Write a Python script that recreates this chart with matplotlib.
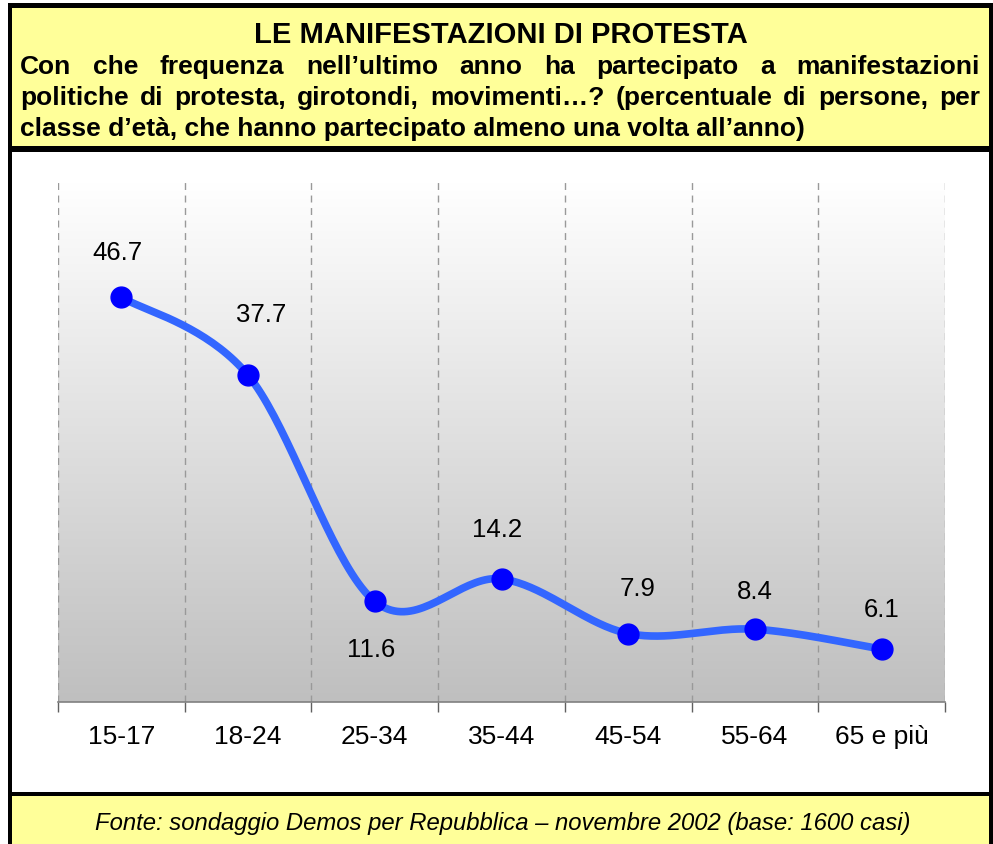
import numpy as np
import matplotlib
matplotlib.use("Agg")
import matplotlib.pyplot as plt
from matplotlib.patches import Rectangle

categories = ["15-17", "18-24", "25-34", "35-44", "45-54", "55-64", "65 e più"]
values = [46.7, 37.7, 11.6, 14.2, 7.9, 8.4, 6.1]

title = "LE MANIFESTAZIONI DI PROTESTA"
subtitle_lines = [
    "Con che frequenza nell\u2019ultimo anno ha partecipato a manifestazioni",
    "politiche di protesta, girotondi, movimenti\u2026? (percentuale di persone, per",
    "classe d\u2019et\u00e0, che hanno partecipato almeno una volta all\u2019anno)",
]
footer = "Fonte: sondaggio Demos per Repubblica \u2013 novembre 2002 (base: 1600 casi)"

# label placement (pixel offsets from each marker), styling only
label_offsets = [(-4, 45), (13, 61), (-4, -48), (-4, 50), (9, 46), (0, 38), (0, 40)]

W, H = 993, 845
plt.rcParams['font.family'] = ['Liberation Sans', 'DejaVu Sans']
fig = plt.figure(figsize=(W / 100, H / 100), dpi=100)

def fx(x):
    return x / W

def fy(y):
    return 1 - y / H

def prect(x0, y0, x1, y1, color, z=0):
    fig.patches.append(Rectangle((fx(x0), fy(y1)), fx(x1) - fx(x0), fy(y0) - fy(y1),
                                 transform=fig.transFigure, facecolor=color,
                                 edgecolor='none', zorder=z))

yellow = '#FFFF99'
prect(8, 4, 993, 845, 'black')
prect(12, 9, 989, 147, yellow)
prect(12, 153, 989, 793, 'white')
prect(12, 797, 989, 845, yellow)

# title
fig.text(fx(501), fy(43), title, ha='center', va='baseline', fontsize=21,
         fontweight='bold', color='black')

# justified subtitle
renderer = fig.canvas.get_renderer()
xl, xr = 20, 980
ys = [74, 105, 136]
fs = 19
for i, line in enumerate(subtitle_lines):
    if i < 2:
        words = line.split(' ')
        tobjs = [fig.text(0, fy(ys[i]), w, ha='left', va='baseline', fontsize=fs,
                          fontweight='bold') for w in words]
        widths = [t.get_window_extent(renderer).width for t in tobjs]
        gap = (xr - xl - sum(widths)) / (len(words) - 1)
        x = xl
        for t, wd in zip(tobjs, widths):
            t.set_x(fx(x))
            x += wd + gap
    else:
        fig.text(fx(xl), fy(ys[i]), line, ha='left', va='baseline', fontsize=fs,
                 fontweight='bold')

fig.text(fx(503), fy(830), footer, ha='center', va='baseline', fontsize=17.2,
         style='italic', color='black')

# plot area
left, right, top, bottom = 58, 945, 183, 703
ax = fig.add_axes([fx(left), fy(bottom), fx(right) - fx(left), fy(top) - fy(bottom)])
ax.set_zorder(5)
ax.patch.set_alpha(0)
ax.set_xlim(-0.5, len(categories) - 0.5)
ax.set_ylim(0, 60)
grad = np.linspace(0.0, 1.0, 256).reshape(-1, 1)
cmap = matplotlib.colors.LinearSegmentedColormap.from_list('g', ['#BFBFBF', '#FFFFFF'])
ax.imshow(grad, extent=[-0.5, len(categories) - 0.5, 0, 60], aspect='auto',
          cmap=cmap, zorder=0, origin='lower', vmin=0, vmax=1)
for b in np.arange(-0.5, len(categories) + 0.5, 1.0):
    ax.axvline(b, color='#999999', lw=1, ls=(0, (5, 4)), zorder=1)

for s in ['left', 'right', 'top']:
    ax.spines[s].set_visible(False)
ax.spines['bottom'].set_color('#808080')
ax.spines['bottom'].set_linewidth(1.2)
ax.set_yticks([])
ax.set_xticks(np.arange(-0.5, len(categories) + 0.5, 1.0))
ax.set_xticklabels([])
ax.set_xticks(np.arange(len(categories)), minor=True)
ax.set_xticklabels(categories, minor=True, fontsize=19)
ax.tick_params(axis='x', which='major', length=7, color='#606060', width=1)
ax.tick_params(axis='x', which='minor', length=0, pad=16)

# smoothed line (Bezier, Excel-like)
xs = np.arange(len(values), dtype=float)
P = np.column_stack([xs, values])
curve = []
t = np.linspace(0, 1, 40)
for i in range(len(P) - 1):
    p0 = P[max(i - 1, 0)]
    p1 = P[i]
    p2 = P[i + 1]
    p3 = P[min(i + 2, len(P) - 1)]
    c1 = p1 + (p2 - p0) / 6
    c2 = p2 - (p3 - p1) / 6
    seg = ((1 - t)[:, None] ** 3 * p1 + 3 * ((1 - t) ** 2 * t)[:, None] * c1
           + 3 * ((1 - t) * t ** 2)[:, None] * c2 + (t ** 3)[:, None] * p2)
    curve.append(seg)
curve = np.vstack(curve)
ax.plot(curve[:, 0], curve[:, 1], color='#3366FF', lw=5.5, zorder=3,
        solid_capstyle='round')
ax.plot(xs, values, 'o', color='#0000FF', markersize=15, zorder=4)

for x, v, off in zip(xs, values, label_offsets):
    ax.annotate(f"{v:.1f}", (x, v), xytext=off, textcoords='offset pixels',
                ha='center', va='center', fontsize=18.5, color='black', zorder=5)

fig.savefig('out.png', dpi=100)
